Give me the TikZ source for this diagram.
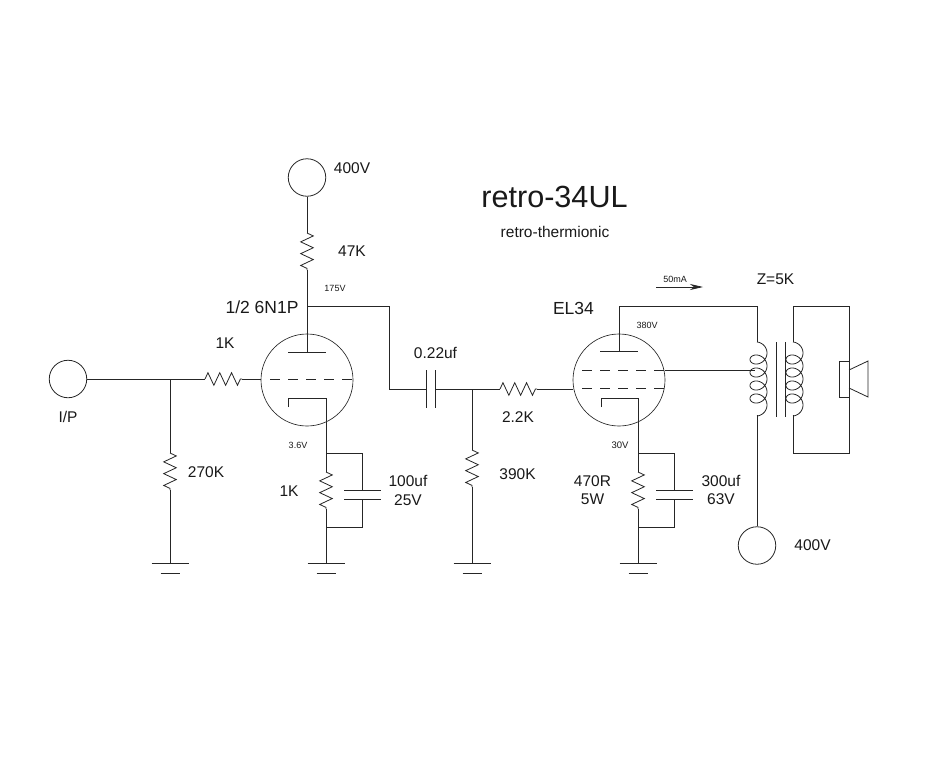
\documentclass[tikz,border=0pt]{standalone}
\usepackage{fontspec}
\setmainfont{Liberation Sans}
\usetikzlibrary{decorations.pathmorphing,arrows.meta}
\tikzset{
  wire/.style={draw=black!85,line width=0.8pt,line join=miter},
  resistor/.style={wire,decorate,decoration={zigzag,segment length=11.8pt,amplitude=6.3pt}},
  terminal/.style={circle,draw=black!85,line width=0.8pt,minimum size=37.5pt,inner sep=0pt,fill=white},
  tube/.style={circle,draw=black!85,line width=0.65pt,minimum size=92pt,inner sep=0pt},
  griddash/.style={wire,dash pattern=on 10pt off 8pt},
  lbl/.style={text=black!90,font=\fontsize{15.5}{17}\selectfont,inner sep=0pt,align=center},
  biglbl/.style={text=black!90,font=\fontsize{17.5}{19}\selectfont,inner sep=0pt},
  tiny/.style={text=black!90,font=\fontsize{9}{10}\selectfont,inner sep=0pt},
}
\newcommand{\gnd}[2]{%
  \coordinate (#1g) at (#2,563);
  \draw[wire] ([xshift=-18.5pt]#1g) -- ([xshift=18.5pt]#1g);
  \draw[wire] ([shift={(-9.5pt,-10pt)}]#1g) -- ([shift={(9.5pt,-10pt)}]#1g);
}
\newcommand{\coil}[2]{%
  \draw[wire,smooth,samples=160,domain=-100:1540,variable=\t]
    plot ({#1+1.5+8.5*cos(\t)},{#2+0.03611*\t+7.5*sin(\t)});
}
\begin{document}
\begin{tikzpicture}[x=1pt,y=-1pt]
\useasboundingbox (0,0) rectangle (931,768);
\fill[white] (0,0) rectangle (931,768);
% terminals and tubes
\node[terminal] (vcc1) at (307,177.5) {};
\node[terminal] (ip) at (68,379) {};
\node[terminal] (vcc2) at (757,545.5) {};
\node[tube] (v1) at (307,380) {};
\node[tube] (v2) at (619,380) {};
% first stage points
\coordinate (r47a) at (307,233);
\coordinate (r47b) at (307,270);
\coordinate (v1p) at (307,352);
\coordinate (anode1) at (307,306);
\coordinate (c22l) at (389,389);
\coordinate (c22t) at (389,306);
\coordinate (cpa) at (426.5,389);
\coordinate (cpb) at (435.5,389);
\coordinate (j2) at (472,389);
\coordinate (r22a) at (500,389);
\coordinate (r22b) at (537,389);
\coordinate (r1ka) at (205,379);
\coordinate (r1kb) at (242,379);
\coordinate (g1) at (261,379);
\coordinate (j1) at (170,379);
\coordinate (r270a) at (170,453);
\coordinate (r270b) at (170,490);
\coordinate (r390a) at (472,450);
\coordinate (r390b) at (472,487);
\coordinate (k1) at (326,398);
\coordinate (k1t) at (326,453);
\coordinate (k1a) at (326,472);
\coordinate (k1b) at (326,509);
\coordinate (k1n) at (326,527);
\coordinate (cap1t) at (362,453);
\coordinate (cap1a) at (362,490);
\coordinate (cap1c) at (362,499);
\coordinate (cap1b) at (362,527);
% second stage points
\coordinate (v2p) at (619,351);
\coordinate (anode2) at (619,306);
\coordinate (prit) at (757,306);
\coordinate (prim) at (757,342);
\coordinate (prib) at (757,415);
\coordinate (k2) at (638,398);
\coordinate (k2t) at (638,453);
\coordinate (k2a) at (638,472);
\coordinate (k2b) at (638,509);
\coordinate (k2n) at (638,527);
\coordinate (cap2t) at (674,453);
\coordinate (cap2a) at (674,490);
\coordinate (cap2c) at (674,499);
\coordinate (cap2b) at (674,527);
\coordinate (sect) at (793,342);
\coordinate (secb) at (793,415);
\coordinate (sec1) at (793,306);
\coordinate (sec2) at (849,306);
\coordinate (sec3) at (849,453);
\coordinate (sec4) at (793,453);
% first stage wiring
\draw[wire] (vcc1) -- (r47a);
\draw[resistor] (r47a) -- (r47b);
\draw[wire] (r47b) -- (v1p);
\draw[wire] (288,352) -- (326,352);
\draw[wire] (anode1) -- (c22t) -- (c22l) -- (cpa);
\draw[wire] (426.5,370) -- (426.5,408);
\draw[wire] (435.5,370) -- (435.5,408);
\draw[wire] (cpb) -- (r22a);
\draw[resistor] (r22a) -- (r22b);
\draw[wire] (r22b) -- (573,389);
\draw[wire] (ip) -- (r1ka);
\draw[resistor] (r1ka) -- (r1kb);
\draw[wire] (r1kb) -- (g1);
\draw[griddash] (270,379.5) -- (353,379.5);
\draw[wire] (j1) -- (r270a);
\draw[resistor] (r270a) -- (r270b);
\gnd{a}{170}
\draw[wire] (r270b) -- (ag);
\draw[wire] (j2) -- (r390a);
\draw[resistor] (r390a) -- (r390b);
\gnd{b}{472}
\draw[wire] (r390b) -- (bg);
% first cathode
\draw[wire] (288,407) -- (288,398) -- (k1) -- (k1t);
\draw[wire] (k1t) -- (k1a);
\draw[resistor] (k1a) -- (k1b);
\gnd{c}{326}
\draw[wire] (k1b) -- (cg);
\draw[wire] (k1t) -- (cap1t) -- (cap1a);
\draw[wire] (k1n) -- (cap1b) -- (cap1c);
\draw[wire] (344,490) -- (381,490);
\draw[wire] (344,499) -- (381,499);
% second tube
\draw[wire] (prim) -- (prit) -- (anode2) -- (v2p);
\draw[wire] (600,351) -- (638,351);
\draw[griddash] (582,370) -- (665,370);
\draw[griddash] (582,388) -- (665,388);
\draw[wire] (665,370) -- (755,370);
\draw[wire] (601,407) -- (601,398) -- (k2) -- (k2t);
\draw[wire] (k2t) -- (k2a);
\draw[resistor] (k2a) -- (k2b);
\gnd{d}{638}
\draw[wire] (k2b) -- (dg);
\draw[wire] (k2t) -- (cap2t) -- (cap2a);
\draw[wire] (k2n) -- (cap2b) -- (cap2c);
\draw[wire] (656,490) -- (693,490);
\draw[wire] (656,499) -- (693,499);
% transformer
\coil{757}{353}
\draw[wire] (prib) -- (vcc2);
\draw[wire] (776,342) -- (776,417);
\draw[wire] (785,342) -- (785,417);
\coil{793}{353}
\draw[wire] (sect) -- (sec1) -- (sec2) -- (849,361);
\draw[wire] (849,397) -- (sec3) -- (sec4) -- (secb);
% speaker
\draw[wire] (839,361) rectangle (849,397);
\draw[wire] (849,370) -- (868,361) -- (868,397) -- (849,388);
% arrow
\coordinate (ia) at (656,287);
\coordinate (ib) at (703,287);
\draw[wire,-{Stealth[length=13pt,width=6pt,inset=4pt]}] (ia) -- (ib);
% labels
\node[text=black!90,font=\fontsize{30.6}{32}\selectfont,inner sep=0pt] (title) at (554.5,197) {retro-34UL};
\node[lbl,font=\fontsize{15.5}{17}\selectfont] (sub) at (555,232) {retro-thermionic};
\node[lbl] (l1) at (352,168) {400V};
\node[lbl] (l2) at (352,251) {47K};
\node[tiny] (l3) at (335,288) {175V};
\node[biglbl] (l4) at (262,307.5) {1/2 6N1P};
\node[lbl] (l5) at (225,343) {1K};
\node[lbl] (l6) at (68,417) {I/P};
\node[lbl] (l7) at (206,472) {270K};
\node[tiny] (l8) at (298,445) {3.6V};
\node[lbl] (l9) at (289,491) {1K};
\node[lbl] (l10) at (408,481) {100uf};
\node[lbl] (l11) at (408,500) {25V};
\node[lbl] (l12) at (435.5,353) {0.22uf};
\node[lbl] (l13) at (518,417) {2.2K};
\node[lbl] (l14) at (517.5,474) {390K};
\node[biglbl] (l15) at (573.5,308) {EL34};
\node[tiny] (l16) at (647,325) {380V};
\node[tiny,font=\fontsize{9.5}{11}\selectfont] (l17) at (620,445) {30V};
\node[lbl] (l18) at (592.5,481) {470R};
\node[lbl] (l19) at (592.5,499) {5W};
\node[lbl] (l20) at (721,481) {300uf};
\node[lbl] (l21) at (721,499) {63V};
\node[tiny] (l22) at (675,279) {50mA};
\node[lbl] (l23) at (775.5,279.5) {Z=5K};
\node[lbl] (l24) at (812.5,545) {400V};
\end{tikzpicture}
\end{document}
